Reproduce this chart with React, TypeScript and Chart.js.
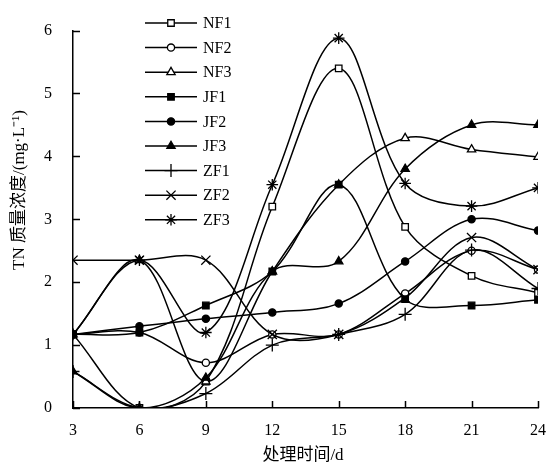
import React, { useEffect, useRef } from 'react';
import { Chart, registerables } from 'chart.js';
import { drawPoint } from 'chart.js/helpers';

Chart.register(...registerables);

const days = [3, 6, 9, 12, 15, 18, 21, 24];
const xTicks = [3, 6, 9, 12, 15, 18, 21, 24];
const yTicks = [0, 1, 2, 3, 4, 5, 6];

const NF1 = [1.17, 0, 0.42, 3.2, 5.4, 2.88, 2.1, 1.83];
const NF2 = [1.17, 1.2, 0.72, 1.17, 1.17, 1.82, 2.5, 2.2];
const NF3 = [1.17, 2.35, 0.42, 2.17, 3.55, 4.29, 4.11, 3.99];
const JF1 = [1.17, 1.2, 1.63, 2.17, 3.55, 1.73, 1.63, 1.72];
const JF2 = [1.17, 1.3, 1.42, 1.52, 1.66, 2.33, 3.0, 2.82];
const JF3 = [0.58, 0, 0.48, 2.17, 2.33, 3.8, 4.5, 4.5];
const ZF1 = [0.58, 0, 0.23, 1.0, 1.17, 1.49, 2.51, 1.9];
const ZF2 = [2.35, 2.35, 2.35, 1.17, 1.17, 1.75, 2.71, 2.2];
const ZF3 = [1.17, 2.35, 1.2, 3.55, 5.88, 3.57, 3.21, 3.5];

const seriesNames = ['NF1', 'NF2', 'NF3', 'JF1', 'JF2', 'JF3', 'ZF1', 'ZF2', 'ZF3'];
const seriesValues = [NF1, NF2, NF3, JF1, JF2, JF3, ZF1, ZF2, ZF3];
const pointStyles = ['rect', 'circle', 'triangle', 'rect', 'circle', 'triangle', 'cross', 'crossRot', 'star'];
const filledMarkers = [false, false, false, true, true, true, true, true, true];
const markerRadius: Record<string, number> = { rect: 4.6, circle: 3.6, triangle: 4.8, cross: 6.5, crossRot: 6.5, star: 5.8 };

const xTitle = '处理时间/d';
const yTitle = 'TN 质量浓度/(mg·L⁻¹)';
const FONT = "'Liberation Serif', 'Times New Roman', 'Noto Sans CJK SC', serif";

const innerTicks = {
  id: 'innerTicks',
  afterDraw(chart: any) {
    const { ctx, chartArea, scales } = chart;
    ctx.save();
    ctx.strokeStyle = '#000';
    ctx.lineWidth = 1.5;
    ctx.beginPath();
    yTicks.forEach((v) => {
      const y = Math.round(scales.y.getPixelForValue(v)) + 0.5;
      ctx.moveTo(chartArea.left, y);
      ctx.lineTo(chartArea.left + 7, y);
    });
    xTicks.forEach((v) => {
      const x = Math.round(scales.x.getPixelForValue(v)) + 0.5;
      ctx.moveTo(x, chartArea.bottom);
      ctx.lineTo(x, chartArea.bottom - 7);
    });
    ctx.stroke();
    ctx.fillStyle = '#000';
    ctx.font = `17px ${FONT}`;
    ctx.textAlign = 'center';
    ctx.textBaseline = 'middle';
    ctx.fillText(xTitle, 303, 456);
    ctx.translate(20, 190);
    ctx.rotate(-Math.PI / 2);
    ctx.fillText(yTitle, 0, 0);
    ctx.restore();
  },
};

const customLegend = {
  id: 'customLegend',
  afterDraw(chart: any) {
    const { ctx } = chart;
    ctx.save();
    const x0 = 145;
    const x1 = 197;
    const y0 = 23;
    const dy = 24.6;
    seriesNames.forEach((name, i) => {
      const y = y0 + i * dy;
      ctx.strokeStyle = '#000';
      ctx.lineWidth = 1.5;
      ctx.beginPath();
      ctx.moveTo(x0, y);
      ctx.lineTo(x1, y);
      ctx.stroke();
      ctx.fillStyle = filledMarkers[i] ? '#000' : '#fff';
      ctx.strokeStyle = '#000';
      ctx.lineWidth = 1.3;
      drawPoint(ctx, { pointStyle: pointStyles[i] as any, radius: markerRadius[pointStyles[i]], rotation: 0, borderWidth: 1.3 }, (x0 + x1) / 2, y);
      ctx.fillStyle = '#000';
      ctx.font = `16px ${FONT}`;
      ctx.textAlign = 'left';
      ctx.textBaseline = 'middle';
      ctx.fillText(name, 203, y + 1);
    });
    ctx.restore();
  },
};

export default function App() {
  const ref = useRef<HTMLCanvasElement>(null);
  useEffect(() => {
    const canvas = ref.current!;
    const datasets = seriesNames.map((name, i) => ({
      label: name,
      order: seriesNames.length - i,
      data: days.map((d, j) => ({ x: d, y: seriesValues[i][j] })),
      borderColor: '#000',
      borderWidth: 1.5,
      tension: 0.35,
      fill: false,
      pointStyle: pointStyles[i] as any,
      pointRadius: markerRadius[pointStyles[i]],
      pointBackgroundColor: filledMarkers[i] ? '#000' : '#fff',
      pointBorderColor: '#000',
      pointBorderWidth: 1.3,
    }));
    const chart = new Chart(canvas, {
      type: 'line',
      data: { datasets },
      options: {
        animation: false,
        responsive: false,
        devicePixelRatio: 1,
        layout: { padding: { left: 0, top: 14, right: 8, bottom: 0 } },
        elements: { line: { capBezierPoints: false } },
        plugins: { legend: { display: false }, tooltip: { enabled: false } },
        scales: {
          x: {
            type: 'linear',
            min: 3,
            max: 24,
            afterBuildTicks: (scale: any) => {
              scale.ticks = xTicks.map((v) => ({ value: v }));
            },
            afterFit: (scale: any) => {
              scale.height = 63;
            },
            grid: { drawOnChartArea: false, drawTicks: false },
            border: { display: true, color: '#000', width: 1.5 },
            ticks: { color: '#000', padding: 13, font: { family: FONT, size: 16 }, maxRotation: 0 },
          },
          y: {
            type: 'linear',
            min: 0,
            max: 6,
            afterBuildTicks: (scale: any) => {
              scale.ticks = yTicks.map((v) => ({ value: v }));
            },
            afterFit: (scale: any) => {
              scale.width = 73;
            },
            grid: { drawOnChartArea: false, drawTicks: false },
            border: { display: true, color: '#000', width: 1.5 },
            ticks: { color: '#000', padding: 21, font: { family: FONT, size: 16 } },
          },
        },
      },
      plugins: [innerTicks, customLegend],
    });
    return () => chart.destroy();
  }, []);
  return (
    <div style={{ position: 'absolute', left: 0, top: 0, width: 559, height: 471, background: '#fff' }}>
      <canvas ref={ref} width={559} height={471} style={{ display: 'block', width: 559, height: 471 }} />
    </div>
  );
}
